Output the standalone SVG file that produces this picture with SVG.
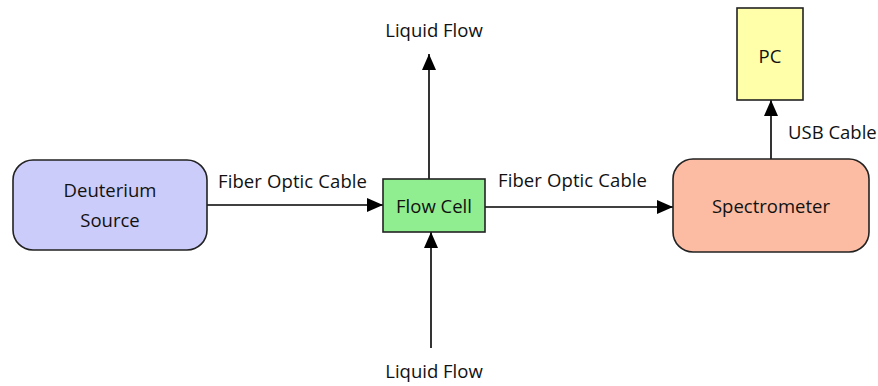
<svg xmlns="http://www.w3.org/2000/svg" width="878" height="386" viewBox="0 0 878 386">
<defs>
<marker id="arr" viewBox="0 0 16 14" refX="16" refY="7" markerWidth="16" markerHeight="14" markerUnits="userSpaceOnUse" orient="auto">
<path d="M0,0 L16,7 L0,14 Z" fill="#000"/>
</marker>
<style>
text{font-family:"Open Sans","Liberation Sans",sans-serif;font-size:18.5px;fill:#111}
.node{stroke:#222;stroke-width:1.6}
.conn line{stroke:#000;stroke-width:1.6;fill:none}
</style>
</defs>
<rect width="878" height="386" fill="#fff"/>
<g class="conn">
<line x1="207" y1="205" x2="383" y2="205" marker-end="url(#arr)"/>
<line x1="485" y1="207" x2="673" y2="207" marker-end="url(#arr)"/>
<line x1="429" y1="179" x2="429" y2="54" marker-end="url(#arr)"/>
<line x1="431" y1="348" x2="431" y2="232" marker-end="url(#arr)"/>
<line x1="771" y1="159" x2="771" y2="100" marker-end="url(#arr)"/>
<text x="218" y="188" textLength="149">Fiber Optic Cable</text>
<text x="498" y="187" textLength="149">Fiber Optic Cable</text>
<text x="434" y="37" text-anchor="middle">Liquid Flow</text>
<text x="434" y="378" text-anchor="middle">Liquid Flow</text>
<text x="788" y="139">USB Cable</text>
</g>
<g id="deuterium">
<rect class="node" x="13" y="160" width="194" height="90" rx="20" fill="#ccccfa"/>
<text x="110" y="197" text-anchor="middle">Deuterium</text>
<text x="110" y="227" text-anchor="middle">Source</text>
</g>
<g id="flowcell">
<rect class="node" x="383" y="179" width="102" height="53" fill="#90ee90"/>
<text x="434" y="213" text-anchor="middle">Flow Cell</text>
</g>
<g id="spectrometer">
<rect class="node" x="673" y="159" width="196" height="93" rx="20" fill="#fbbca3"/>
<text x="771" y="213" text-anchor="middle">Spectrometer</text>
</g>
<g id="pc">
<rect class="node" x="737" y="8" width="66" height="92" fill="#ffffaa"/>
<text x="770" y="63" text-anchor="middle">PC</text>
</g>
</svg>
